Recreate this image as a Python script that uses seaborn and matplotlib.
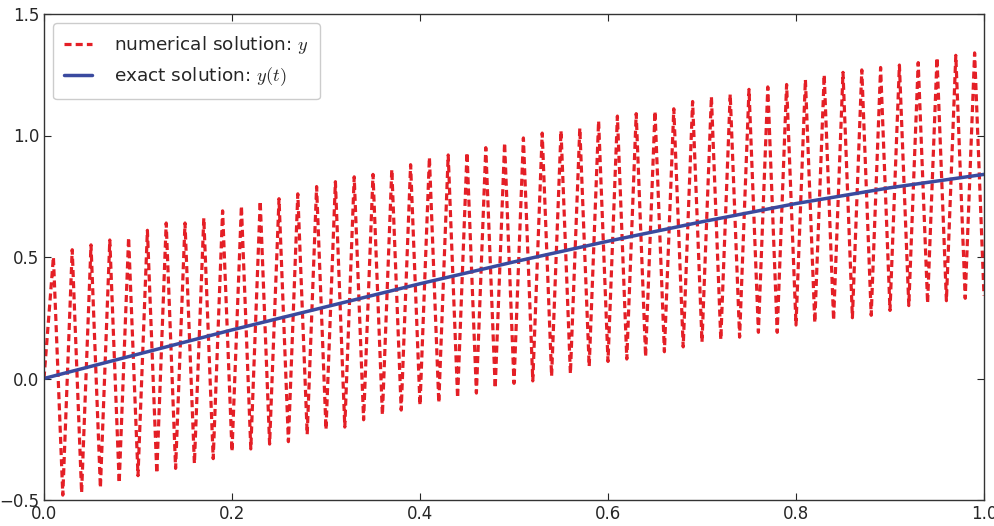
import numpy as np
import pandas as pd
import matplotlib
matplotlib.use("Agg")
import matplotlib.pyplot as plt
import seaborn as sns

# values
# numerical solution: y0 = 0, then alternating peaks (odd steps) and troughs (even steps)
peaks = [0.50, 0.53, 0.55, 0.57, 0.58, 0.61, 0.64, 0.64, 0.66, 0.69,
         0.71, 0.73, 0.74, 0.76, 0.79, 0.81, 0.83, 0.84, 0.86, 0.88,
         0.91, 0.92, 0.93, 0.95, 0.97, 0.99, 1.01, 1.02, 1.03, 1.06,
         1.08, 1.09, 1.10, 1.11, 1.14, 1.16, 1.17, 1.19, 1.20, 1.21,
         1.23, 1.25, 1.26, 1.27, 1.28, 1.29, 1.30, 1.32, 1.33, 1.34]
troughs = [-0.48, -0.47, -0.45, -0.43, -0.40, -0.39, -0.37, -0.35, -0.33, -0.30,
           -0.29, -0.27, -0.26, -0.23, -0.21, -0.20, -0.17, -0.15, -0.13, -0.11,
           -0.10, -0.08, -0.06, -0.04, -0.02, -0.01, 0.01, 0.02, 0.05, 0.07,
           0.08, 0.09, 0.11, 0.13, 0.15, 0.16, 0.17, 0.19, 0.19, 0.22,
           0.23, 0.24, 0.25, 0.26, 0.28, 0.30, 0.31, 0.32, 0.33, 0.34]

# sample times of the numerical scheme (step 0.01)
t_num = np.linspace(0, 1, 101)
y_num = [0.0]
for p, q in zip(peaks, troughs):
    y_num += [p, q]

# exact solution read at every 0.1
t_exact = [0.0, 0.1, 0.2, 0.3, 0.4, 0.5, 0.6, 0.7, 0.8, 0.9, 1.0]
y_exact = [0.0, 0.10, 0.20, 0.295, 0.39, 0.48, 0.565, 0.645, 0.72, 0.785, 0.84]

xticks = [0.0, 0.2, 0.4, 0.6, 0.8, 1.0]
yticks = [-0.5, 0.0, 0.5, 1.0, 1.5]

sns.set_style("ticks")
plt.rcParams.update({
    "font.family": ["DejaVu Sans"],
    "mathtext.fontset": "cm",
    "xtick.direction": "in",
    "ytick.direction": "in",
    "xtick.top": True,
    "ytick.right": True,
    "xtick.major.size": 5,
    "ytick.major.size": 5,
    "xtick.labelsize": 12,
    "ytick.labelsize": 12,
    "axes.edgecolor": "#333333",
    "axes.linewidth": 1.0,
})

fig = plt.figure(figsize=(9.95, 5.26), dpi=100)
ax = fig.add_axes([44 / 995, 26 / 526, 940 / 995, 486 / 526])

num_df = pd.DataFrame({"t": t_num, "y": y_num})
ex_df = pd.DataFrame({"t": t_exact, "y": y_exact})

sns.lineplot(data=num_df, x="t", y="y", ax=ax, color="#e41f26", lw=2.3,
             linestyle=(0, (2.2, 1.3)), estimator=None, sort=False,
             label="numerical solution: $y$")
sns.lineplot(data=ex_df, x="t", y="y", ax=ax, color="#3a4a9f", lw=2.5,
             estimator=None, sort=False, label="exact solution: $y(t)$")

ax.set_xlim(0, 1)
ax.set_ylim(-0.5, 1.5)
ax.set_xticks(xticks)
ax.set_yticks(yticks)
ax.set_xlabel("")
ax.set_ylabel("")
for s in ax.spines.values():
    s.set_visible(True)

ax.legend(loc="upper left", fontsize=13.3, handlelength=1.5, handletextpad=1.2,
          fancybox=True, framealpha=1, edgecolor="#cccccc", borderaxespad=0.5,
          borderpad=0.6)

fig.savefig("out.png", dpi=100)
